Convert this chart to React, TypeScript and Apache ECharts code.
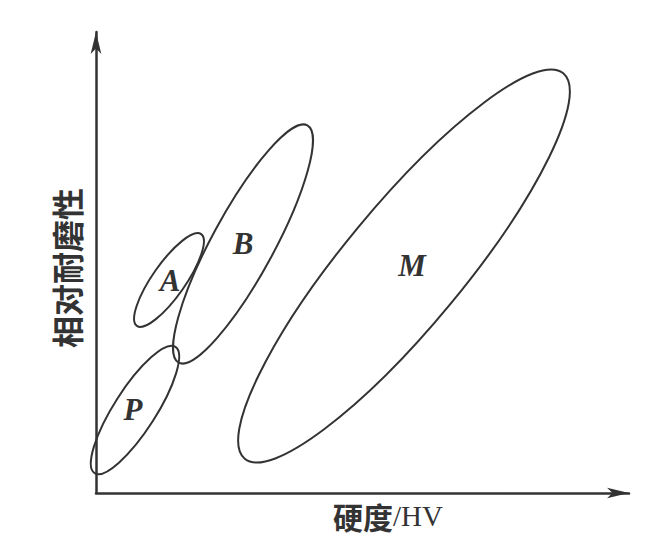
import React, { useEffect, useRef } from "react";
import * as echarts from "echarts";

// Region names and their ellipse parameters (data units: 1 unit = 1 px on both axes)
const regionNames = ["P", "A", "B", "M"];
const centerX = [39, 73, 147, 308];
const centerY = [83, 213, 249, 227];
const semiMajor = [75, 56, 135, 250];
const semiMinor = [21, 16.5, 31, 60];
const tiltDeg = [57.4, 55, 61.5, 50.4];
const labelX = [37, 74, 147, 316];
const labelY = [84, 213, 250, 228];

const xName = "硬度/HV";
const yName = "相对耐磨性";
const xMax = 533;
const yMax = 461;

const INK = "#333";

export default function App() {
  const ref = useRef<HTMLDivElement>(null);
  useEffect(() => {
    if (!ref.current) return;
    const chart = echarts.init(ref.current, undefined, { renderer: "svg" });
    const ellipseData = regionNames.map((_, i) => [
      centerX[i],
      centerY[i],
      semiMajor[i],
      semiMinor[i],
      tiltDeg[i],
    ]);
    const labelData = regionNames.map((n, i) => ({ value: [labelX[i], labelY[i]], name: n }));
    chart.setOption({
      animation: false,
      backgroundColor: "#fff",
      grid: { left: 96, right: 38, top: 32, bottom: 45 },
      xAxis: {
        type: "value",
        min: 0,
        max: xMax,
        axisLine: {
          show: true,
          symbol: ["none", "arrow"],
          symbolSize: [8, 22],
          lineStyle: { color: INK, width: 2.5 },
        },
        axisTick: { show: false },
        axisLabel: { show: false },
        splitLine: { show: false },
      },
      yAxis: {
        type: "value",
        min: 0,
        max: yMax,
        axisLine: {
          show: true,
          symbol: ["none", "arrow"],
          symbolSize: [8, 22],
          lineStyle: { color: INK, width: 2.5 },
        },
        axisTick: { show: false },
        axisLabel: { show: false },
        splitLine: { show: false },
      },
      series: [
        {
          type: "custom",
          clip: false,
          data: ellipseData,
          renderItem: (params: any, api: any) => {
            const c = api.coord([api.value(0), api.value(1)]);
            const rx = api.size([api.value(2), 0])[0];
            const ry = api.size([0, api.value(3)])[1];
            return {
              type: "ellipse",
              x: c[0],
              y: c[1],
              rotation: (api.value(4) * Math.PI) / 180,
              shape: { cx: 0, cy: 0, rx, ry },
              style: { fill: "none", stroke: INK, lineWidth: 2 },
            };
          },
        },
        {
          type: "custom",
          clip: false,
          data: labelData,
          renderItem: (params: any, api: any) => {
            const c = api.coord([api.value(0), api.value(1)]);
            return {
              type: "text",
              x: c[0],
              y: c[1],
              style: {
                text: regionNames[params.dataIndex],
                fontFamily: "Liberation Serif",
                fontWeight: "bold",
                fontStyle: "italic",
                fontSize: 31,
                fill: INK,
                align: "center",
                verticalAlign: "middle",
                textAlign: "center",
                textVerticalAlign: "middle",
              },
            };
          },
        },
      ],
      graphic: [
        {
          type: "text",
          x: 388,
          y: 516,
          style: {
            text: "{c|硬度}{l|/HV}",
            rich: {
              c: { fontFamily: "Noto Sans CJK SC", fontWeight: "bold", fontSize: 30, fill: INK },
              l: { fontFamily: "Liberation Serif", fontSize: 29, fill: INK },
            },
            fill: INK,
            align: "center",
            verticalAlign: "middle",
            textAlign: "center",
            textVerticalAlign: "middle",
          },
        },
        {
          type: "text",
          x: 66,
          y: 268,
          rotation: Math.PI / 2,
          style: {
            text: yName,
            fontFamily: "Noto Sans CJK SC",
            fontWeight: "bold",
            fontSize: 32,
            fill: INK,
            align: "center",
            verticalAlign: "middle",
            textAlign: "center",
            textVerticalAlign: "middle",
          },
        },
      ],
    });
    return () => chart.dispose();
  }, []);
  return (
    <div
      ref={ref}
      style={{ position: "fixed", left: 0, top: 0, width: 667, height: 538, background: "#fff" }}
      data-xname={xName}
    />
  );
}
